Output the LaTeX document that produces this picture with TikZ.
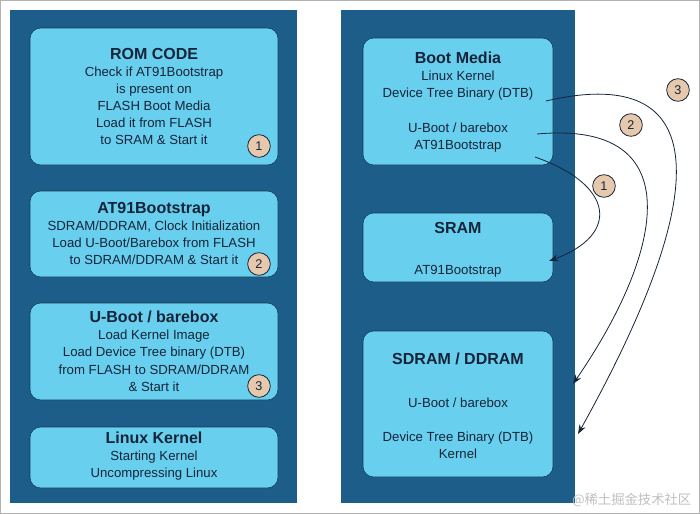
\documentclass[tikz,border=0pt]{standalone}
\usepackage{fontspec}
\setmainfont{Liberation Sans}
\newfontfamily\cjk{Noto Sans CJK SC}
\usetikzlibrary{arrows.meta}
\definecolor{panel}{HTML}{1C5D8A}
\definecolor{boxc}{HTML}{68D0EE}
\definecolor{circc}{HTML}{E6C9AD}
\definecolor{txt}{HTML}{16243A}
\newcommand\myttl{\fontsize{12}{13}\selectfont\bfseries}
\begin{document}
\begin{tikzpicture}[x=0.75pt,y=-0.75pt,
  box/.style={fill=boxc,draw=panel!60!black,rounded corners=8pt,line width=0.4pt},
  txt/.style={text=txt,font=\fontsize{9.9}{12.8}\selectfont,align=center,anchor=north,inner sep=0pt},
  num/.style={circle,fill=circc,draw=txt,line width=0.6pt,minimum size=17pt,inner sep=0pt,text=txt,font=\fontsize{9.5}{10}\selectfont},
  arr/.style={draw=txt,line width=0.6pt,-{Stealth[length=7pt,width=5pt]}}]
\useasboundingbox (0,0) rectangle (700,514);
\draw[gray!60,line width=1pt] (0.5,0.5) rectangle (699.5,513.5);
% left panel
\fill[panel] (10,10) rectangle (297,503);
\draw[box] (30,28) rectangle (278,165);
\draw[box] (30,191) rectangle (278,277);
\draw[box] (30,303) rectangle (278,400);
\draw[box] (30,427) rectangle (278,488);
\node[txt] (rom) at (154,48) {{\myttl ROM CODE}\\Check if AT91Bootstrap\\is present on\\FLASH Boot Media\\Load it from FLASH\\to SRAM \& Start it};
\node[txt] (at91) at (154,202) {{\myttl AT91Bootstrap}\\SDRAM/DDRAM, Clock Initialization\\Load U-Boot/Barebox from FLASH\\to SDRAM/DDRAM \& Start it};
\node[txt] (ub) at (154,311) {{\myttl U-Boot / barebox}\\Load Kernel Image\\Load Device Tree binary (DTB)\\from FLASH to SDRAM/DDRAM\\\& Start it};
\node[txt] (lk) at (154,432) {{\myttl Linux Kernel}\\Starting Kernel\\Uncompressing Linux};
\node[num] (l1) at (259,146) {1};
\node[num] (l2) at (259,264) {2};
\node[num] (l3) at (259,386) {3};
% right panel
\fill[panel] (341,10) rectangle (575,503);
\draw[box] (363,38) rectangle (553,165);
\draw[box] (363,213) rectangle (553,282);
\draw[box] (363,331) rectangle (553,477);
\node[txt] (bm) at (458,52) {{\myttl Boot Media}\\Linux Kernel\\Device Tree Binary (DTB)\\[13pt]U-Boot / barebox\\AT91Bootstrap};
\node[txt] (sr) at (458,222) {{\myttl SRAM}\\[18pt]AT91Bootstrap};
\node[txt] (sd) at (458,353) {{\myttl SDRAM / DDRAM}\\[19pt]U-Boot / barebox\\[13pt]Device Tree Binary (DTB)\\Kernel};
\node[num] (r1) at (604,186) {1};
\node[num] (r2) at (631,125) {2};
\node[num] (r3) at (678,90) {3};
\coordinate (s1) at (535,157); \coordinate (e1) at (549,261);
\coordinate (s2) at (537,134); \coordinate (e2) at (573,384);
\coordinate (s3) at (546,101); \coordinate (e3) at (578,434);
\draw[arr] (s1) .. controls (615,185) and (620,235) .. (e1);
\draw[arr] (s2) .. controls (690,120) and (665,250) .. (e2);
\draw[arr] (s3) .. controls (700,65) and (725,170) .. (e3);
\node[text=gray!50,font=\cjk\fontsize{10}{12}\selectfont,anchor=east] (wm) at (696,500) {@稀土掘金技术社区};
\end{tikzpicture}
\end{document}
